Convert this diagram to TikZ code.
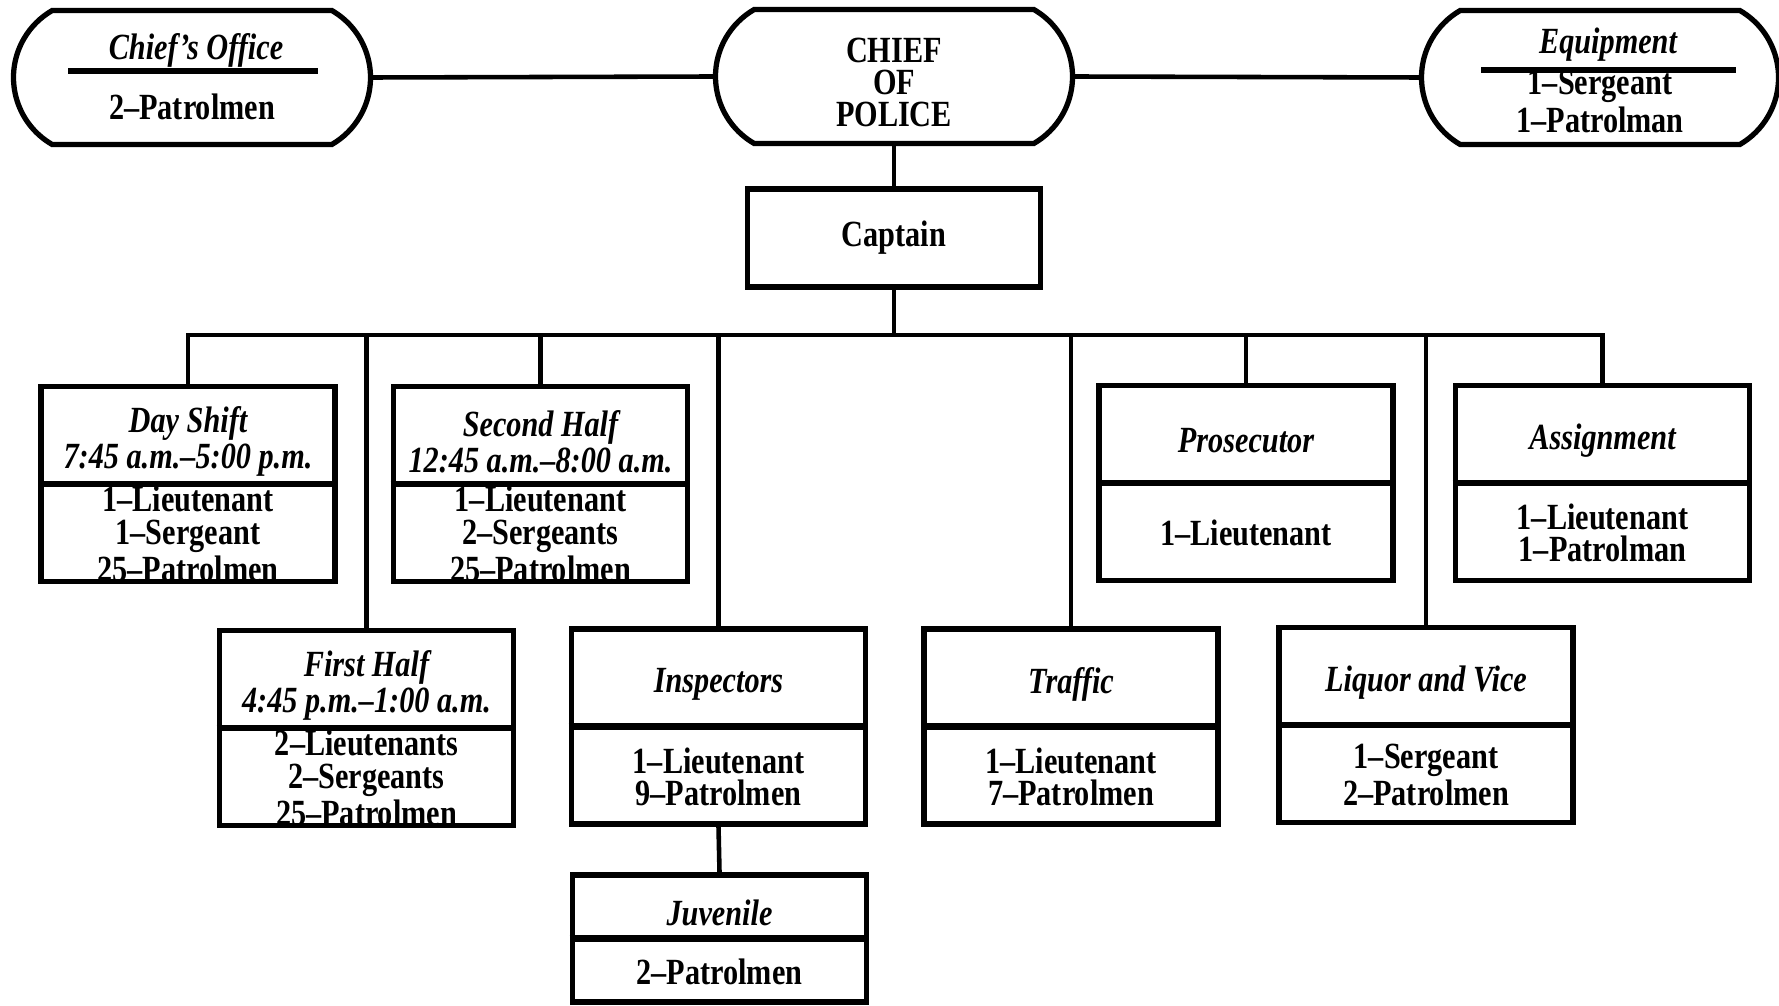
\documentclass[tikz,border=0pt]{standalone}
\usepackage{fontspec}
\setmainfont{Liberation Serif}[FakeStretch=0.82]
\usetikzlibrary{shapes.misc,calc}
\newcommand{\chartfont}{\fontsize{10.5}{9.2}\selectfont}
\tikzset{
    unit/.style={draw, line width=1.6pt, minimum width=2.94cm, minimum height=1.95cm, inner sep=0pt},
    stadium/.style={draw, line width=1.5pt, rounded rectangle, rounded rectangle arc length=120,
        minimum width=3.57cm, minimum height=1.34cm, inner sep=0pt},
    link/.style={line width=1.3pt},
    rule/.style={line width=1.8pt},
    ttl/.style={font=\chartfont\bfseries\itshape, align=center, inner sep=0pt},
    body/.style={font=\chartfont\bfseries, align=center, inner sep=0pt}
}
% box with title on top half and staff below
\newcommand{\orgunit}[4]{%
    \node[unit] (#1) at (#2) {};
    \draw[rule] (#1.west) -- (#1.east);
    \node[ttl, yshift=-0.08cm] (#1-t) at ($(#1.north)!0.5!(#1.center)$) {#3};
    \node[body] (#1-b) at ($(#1.south)!0.5!(#1.center)$) {#4};
}

\begin{document}
\begin{tikzpicture}[font=\chartfont]
    \useasboundingbox (0,0) rectangle (17.79,-10.05);
    % chief and staff offices
    \node[stadium] (office) at (1.92,-0.775) {};
    \node[stadium] (chief) at (8.94,-0.765) {};
    \node[stadium] (equip) at (16.0,-0.775) {};
    \node[body] (chief-t) at ([yshift=-0.06cm]chief.center) {CHIEF\\OF\\POLICE};
    \draw[rule] ([shift={(-1.24,0.065)}]office.center) -- ([shift={(1.26,0.065)}]office.center);
    \node[ttl] (office-t) at ([shift={(0.04,0.27)}]office.center) {Chief's Office};
    \node[body] (office-b) at ([shift={(0,-0.295)}]office.center) {2--Patrolmen};
    \draw[rule] ([shift={(-1.19,0.075)}]equip.center) -- ([shift={(1.36,0.075)}]equip.center);
    \node[ttl] (equip-t) at ([shift={(0.08,0.33)}]equip.center) {Equipment};
    \node[body] (equip-b) at ([shift={(0,-0.24)}]equip.center) {1--Sergeant\\1--Patrolman};
    \draw[link] (office.east) -- (chief.west);
    \draw[link] (chief.east) -- (equip.west);

    \node[unit, font=\chartfont\bfseries, minimum width=2.93cm, minimum height=0.98cm] (captain) at (8.94,-2.38) {Captain};
    \draw[link] (chief.south) -- (captain.north);
    \coordinate (bus) at (8.94,-3.35);
    \draw[link] (captain.south) -- (bus);

    % divisions
    \orgunit{day}{1.88,-4.84}{Day Shift\\7:45 a.m.--5:00 p.m.}{1--Lieutenant\\1--Sergeant\\25--Patrolmen}
    \orgunit{second}{5.405,-4.84}{Second Half\\12:45 a.m.--8:00 a.m.}{1--Lieutenant\\2--Sergeants\\25--Patrolmen}
    \orgunit{pros}{12.46,-4.83}{Prosecutor}{1--Lieutenant}
    \orgunit{assign}{16.025,-4.83}{Assignment}{1--Lieutenant\\1--Patrolman}
    \orgunit{first}{3.665,-7.28}{First Half\\4:45 p.m.--1:00 a.m.}{2--Lieutenants\\2--Sergeants\\25--Patrolmen}
    \orgunit{insp}{7.185,-7.265}{Inspectors}{1--Lieutenant\\9--Patrolmen}
    \orgunit{traffic}{10.71,-7.265}{Traffic}{1--Lieutenant\\7--Patrolmen}
    \orgunit{liquor}{14.26,-7.25}{Liquor and Vice}{1--Sergeant\\2--Patrolmen}
    \begin{scope}[unit/.append style={minimum height=1.27cm}]
        \orgunit{juv}{7.195,-9.385}{Juvenile}{2--Patrolmen}
    \end{scope}

    \foreach \n in {day,first,second,insp,traffic,pros,liquor,assign}
        \draw[link] (bus) -| (\n.north);
    \draw[link] (insp.south) -- (juv.north);
\end{tikzpicture}
\end{document}
